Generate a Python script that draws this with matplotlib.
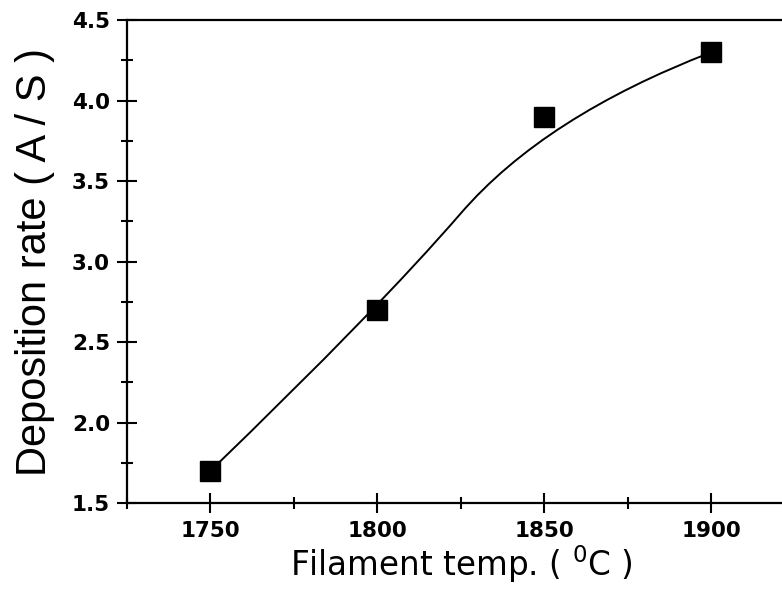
import matplotlib as mpl
mpl.use("Agg")
import matplotlib.pyplot as plt
from matplotlib.patches import PathPatch
from matplotlib.path import Path
from matplotlib.ticker import MultipleLocator, FormatStrFormatter

mpl.rcParams["font.family"] = "Liberation Sans"
mpl.rcParams["mathtext.fontset"] = "custom"
mpl.rcParams["mathtext.rm"] = "DejaVu Sans"

# measured points
temp = [1750, 1800, 1850, 1900]
rate = [1.7, 2.7, 3.9, 4.3]

fig = plt.figure(figsize=(7.82, 5.89), dpi=100)
ax = fig.add_axes([0.1624, 0.146, 0.854, 0.820])

# guide curve: quadratic B-spline using the points as control points
pts = list(zip(temp, rate))
verts = [pts[0]]
codes = [Path.MOVETO]
for i in range(1, len(pts) - 1):
    verts.append(pts[i])
    if i < len(pts) - 2:
        nxt = ((pts[i][0] + pts[i + 1][0]) / 2, (pts[i][1] + pts[i + 1][1]) / 2)
    else:
        nxt = pts[i + 1]
    verts.append(nxt)
    codes += [Path.CURVE3, Path.CURVE3]
ax.add_patch(PathPatch(Path(verts, codes), facecolor="none",
                       edgecolor="k", lw=1.4, zorder=2))

ax.plot(temp, rate, ls="none", marker="s", ms=14, color="k", zorder=3)

ax.set_xlim(1725, 1925)
ax.set_ylim(1.5, 4.5)
ax.xaxis.set_major_locator(MultipleLocator(50))
ax.xaxis.set_minor_locator(MultipleLocator(25))
ax.yaxis.set_major_locator(MultipleLocator(0.5))
ax.yaxis.set_minor_locator(MultipleLocator(0.25))
ax.yaxis.set_major_formatter(FormatStrFormatter("%.1f"))

for side in ["left", "bottom", "top"]:
    ax.spines[side].set_linewidth(1.6)
ax.spines["right"].set_visible(False)

ax.tick_params(axis="both", which="major", direction="inout", length=14.5,
               width=1.5)
ax.tick_params(axis="both", which="minor", direction="inout", length=8,
               width=1.5)
ax.tick_params(axis="y", which="major", pad=5)
ax.tick_params(axis="x", which="major", pad=6)
for lab in ax.get_xticklabels() + ax.get_yticklabels():
    lab.set_fontfamily("DejaVu Sans")
    lab.set_fontweight("bold")
    lab.set_fontsize(15.5)

ax.set_xlabel(r"Filament temp. ( $^{0}$C )", fontsize=23.5,
              family="DejaVu Sans", labelpad=1)
ax.set_ylabel("Deposition rate ( A / S )", fontsize=30, labelpad=12)

fig.savefig("out.png", dpi=100)
